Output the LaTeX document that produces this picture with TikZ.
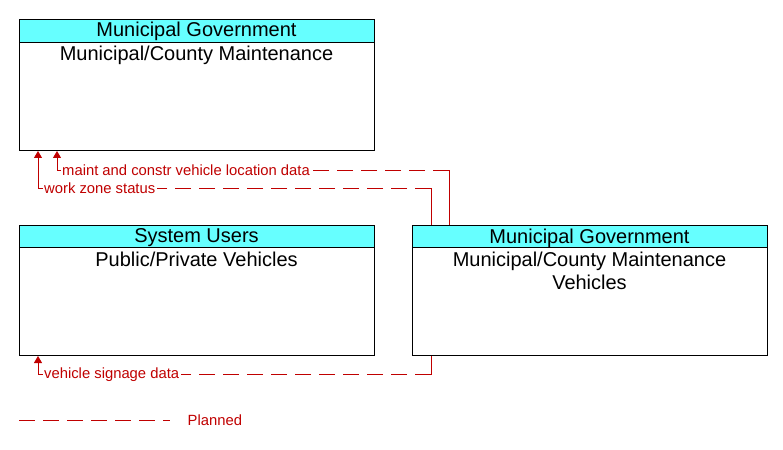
\documentclass[tikz,border=0pt]{standalone}
\usepackage{fontspec}
\setmainfont{Liberation Sans}
\usetikzlibrary{arrows.meta}
\definecolor{hdr}{RGB}{102,255,255}
\definecolor{flow}{RGB}{192,0,0}
\tikzset{
  box/.style={draw=black, line width=1pt, fill=white, inner sep=0pt, anchor=north west},
  hbox/.style={draw=black, line width=1pt, fill=hdr, inner sep=0pt, anchor=north west, minimum height=23pt},
  htext/.style={font=\fontsize{20}{22}\selectfont, inner sep=0pt},
  btext/.style={font=\fontsize{20}{23}\selectfont, inner sep=0pt, anchor=north, align=center},
  seg/.style={draw=flow, line width=1pt},
  planned/.style={draw=flow, line width=1pt, dash pattern=on 16pt off 8pt},
  arr/.style={-{Triangle[width=8pt,length=7pt]}},
  lbl/.style={font=\fontsize{14.8}{16}\selectfont, text=flow, fill=white, inner sep=1.5pt, anchor=west}
}
\begin{document}
\begin{tikzpicture}[x=1pt,y=-1pt]
\useasboundingbox (0,0) rectangle (783,449);
% boxes
\node[box, minimum width=355pt, minimum height=131pt] (b1) at (19,19) {};
\node[hbox, minimum width=355pt] (h1) at (19,19) {};
\node[htext] (h1t) at (196.5,31.5) {Municipal Government};
\node[btext] (b1t) at (196.5,46) {Municipal/County Maintenance};

\node[box, minimum width=355pt, minimum height=130pt] (b2) at (19,225) {};
\node[hbox, minimum width=355pt, minimum height=22pt] (h2) at (19,225) {};
\node[htext] (h2t) at (196.5,238) {System Users};
\node[btext] (b2t) at (196.5,251.5) {Public/Private Vehicles};

\node[box, minimum width=355pt, minimum height=130pt] (b3) at (412,225) {};
\node[hbox, minimum width=355pt, minimum height=22pt] (h3) at (412,225) {};
\node[htext] (h3t) at (589.5,238) {Municipal Government};
\node[btext] (b3t) at (589.5,251.5) {Municipal/County Maintenance\\Vehicles};

% flow 1: maint and constr vehicle location data
\coordinate (f1a) at (449,170);
\coordinate (f1b) at (57,170);
\draw[seg] ([xshift=37pt]b3.north west) -- (f1a);
\draw[planned] (f1a) -- (f1b);
\draw[seg, arr] (f1b) -- ([xshift=38pt]b1.south west);
\node[lbl] (l1) at (60.5,170) {maint and constr vehicle location data};

% flow 2: work zone status
\coordinate (f2a) at (431,188);
\coordinate (f2b) at (38,188);
\draw[seg] ([xshift=19pt]b3.north west) -- (f2a);
\draw[planned] (f2a) -- (f2b);
\draw[seg, arr] (f2b) -- ([xshift=19pt]b1.south west);
\node[lbl] (l2) at (42.5,188) {work zone status};

% flow 3: vehicle signage data
\coordinate (f3a) at (431,374.5);
\coordinate (f3b) at (38,374.5);
\draw[seg] ([xshift=19pt]b3.south west) -- (f3a);
\draw[planned] (f3a) -- (f3b);
\draw[seg, arr] (f3b) -- ([xshift=19pt]b2.south west);
\node[lbl] (l3) at (42.5,374.5) {vehicle signage data};

% legend
\coordinate (lg1) at (19,420);
\coordinate (lg2) at (170,420);
\draw[planned] (lg1) -- (lg2);
\node[lbl, fill=none] (lgt) at (186,420) {Planned};
\end{tikzpicture}
\end{document}
